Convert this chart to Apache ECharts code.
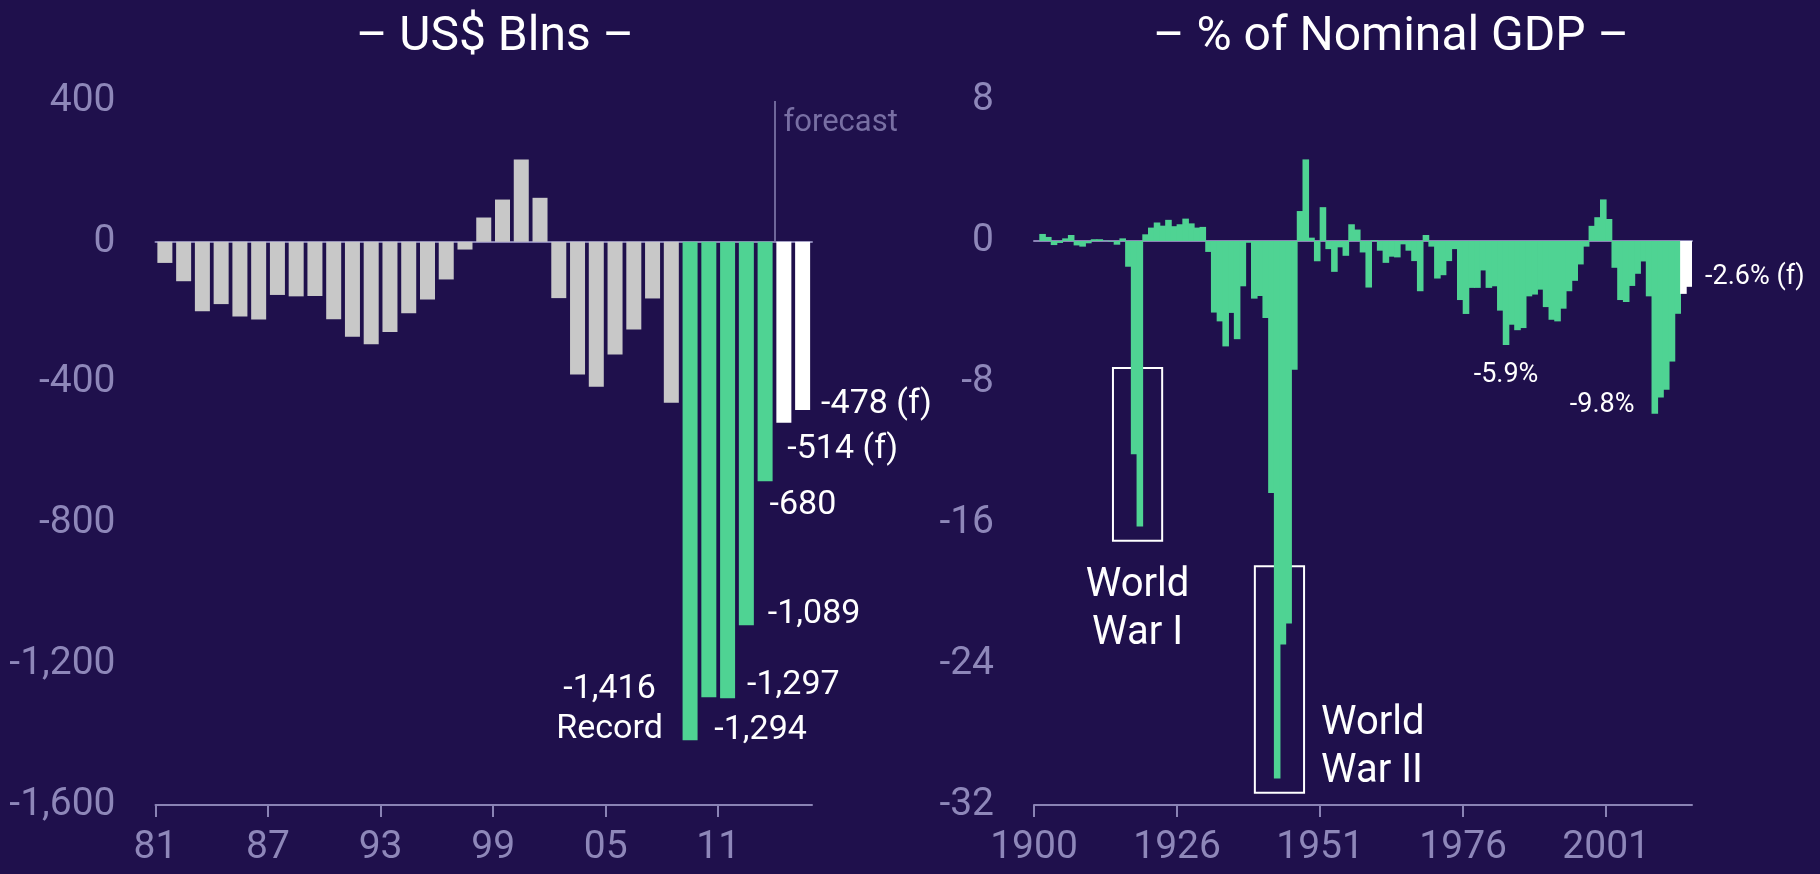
<!DOCTYPE html>
<html>
<head>
<meta charset="utf-8">
<title>US budget balance</title>
<script src="https://cdn.jsdelivr.net/npm/echarts@6/dist/echarts.min.js"></script>
<style>
html, body { margin: 0; padding: 0; background: #1f104c; }
#chartmain { width: 1820px; height: 874px; }
</style>
</head>
<body>
<div id="chartmain"></div>
<script>
// left panel: US$ bn, fiscal years
var usdYears = [1981, 1982, 1983, 1984, 1985, 1986, 1987, 1988, 1989, 1990,
    1991, 1992, 1993, 1994, 1995, 1996, 1997, 1998, 1999, 2000,
    2001, 2002, 2003, 2004, 2005, 2006, 2007, 2008, 2009, 2010,
    2011, 2012, 2013, 2014, 2015];
var usdValues = [-60, -112, -197, -177, -212, -221, -151, -155, -154, -220,
    -270, -291, -256, -203, -164, -107, -22, 69, 120, 234,
    125, -160, -377, -412, -320, -249, -161, -457, -1416, -1294,
    -1297, -1089, -680, -514, -478];
var usdTickYears = [1981, 1987, 1993, 1999, 2005, 2011];
var usdTickLabels = ['81', '87', '93', '99', '05', '11'];

// right panel: % of nominal GDP
var gdpYears = [1901, 1902, 1903, 1904, 1905, 1906, 1907, 1908, 1909, 1910,
    1911, 1912, 1913, 1914, 1915, 1916, 1917, 1918, 1919, 1920,
    1921, 1922, 1923, 1924, 1925, 1926, 1927, 1928, 1929, 1930,
    1931, 1932, 1933, 1934, 1935, 1936, 1937, 1938, 1939, 1940,
    1941, 1942, 1943, 1944, 1945, 1946, 1947, 1948, 1949, 1950,
    1951, 1952, 1953, 1954, 1955, 1956, 1957, 1958, 1959, 1960,
    1961, 1962, 1963, 1964, 1965, 1966, 1967, 1968, 1969, 1970,
    1971, 1972, 1973, 1974, 1975, 1976, 1977, 1978, 1979, 1980,
    1981, 1982, 1983, 1984, 1985, 1986, 1987, 1988, 1989, 1990,
    1991, 1992, 1993, 1994, 1995, 1996, 1997, 1998, 1999, 2000,
    2001, 2002, 2003, 2004, 2005, 2006, 2007, 2008, 2009, 2010,
    2011, 2012, 2013, 2014, 2015];
var gdpValues = [0.0, 0.4, 0.23, -0.23, -0.11, 0.15, 0.34, -0.25, -0.32, -0.13,
    0.1, 0.1, 0.02, -0.03, -0.21, 0.15, -1.46, -12.1, -16.2, 0.38,
    0.76, 1.05, 0.87, 1.2, 0.84, 0.95, 1.27, 1.0, 0.76, 0.8,
    -0.62, -4.06, -4.56, -5.98, -4.08, -5.57, -2.57, -0.1, -3.27, -3.12,
    -4.37, -14.3, -30.5, -22.9, -21.7, -7.3, 1.7, 4.63, 0.19, -1.15,
    1.92, -0.46, -1.75, -0.36, -0.84, 0.95, 0.65, -0.65, -2.64, 0.05,
    -0.55, -1.24, -0.89, -0.93, -0.19, -0.55, -1.14, -2.85, 0.34, -0.32,
    -2.13, -1.94, -1.14, -0.46, -3.35, -4.14, -2.66, -2.66, -1.67, -2.66,
    -2.57, -3.95, -5.9, -4.75, -5.06, -4.94, -3.14, -3.04, -2.76, -3.75,
    -4.47, -4.56, -3.84, -2.85, -2.26, -1.33, -0.32, 0.86, 1.35, 2.36,
    1.25, -1.52, -3.35, -3.46, -2.55, -1.86, -1.16, -3.14, -9.8, -8.88,
    -8.44, -6.84, -4.13, -3.0, -2.6];
var gdpTickYears = [1901, 1926, 1951, 1976, 2001];
var gdpTickLabels = ['1900', '1926', '1951', '1976', '2001'];

var forecastFrom = 2014;
var recordFrom = 2009;

var BG = '#1f104c';
var GREEN = '#4fd393';
var GRAY = '#c8c8c8';
var WHITE = '#ffffff';
var LINE = '#8a83b5';
var AXIS_TEXT = '#8e87b9';
var FONT = 'Roboto';

// where each value label sits (style only, values come from the arrays)
var usdLabelStyle = {
    2009: { pos: ['0%', '100%'], offset: [-73, -31], align: 'center', extra: '\nRecord' },
    2010: { pos: ['100%', '100%'], offset: [-2, 33] },
    2011: { pos: ['100%', '100%'], offset: [12, -13] },
    2012: { pos: ['100%', '100%'], offset: [14, -11] },
    2013: { pos: ['0%', '100%'], offset: [12, 24] },
    2014: { pos: ['0%', '100%'], offset: [11, 27] },
    2015: { pos: ['100%', '100%'], offset: [11, -6] }
};
var gdpLabelStyle = {
    1983: { pos: 'bottom', distance: 14, align: 'center' },
    2009: { pos: ['0%', '100%'], offset: [-17, -8], align: 'right' },
    2015: { pos: ['100%', '100%'], offset: [13, -10] }
};

// annotation boxes, in axis units (years, % of GDP)
var warBoxes = [
    { name: 'World\nWar I', x: [1914.8, 1923.4], y: [-7.2, -17.0], where: 'below' },
    { name: 'World\nWar II', x: [1939.6, 1948.2], y: [-18.45, -31.3], where: 'right' }
];

function fmt(v) {
    return v.toLocaleString('en-US');
}

function makeItems(years, values, color, styles, textOf, fontSize) {
    var out = [];
    for (var i = 0; i < values.length; i++) {
        var year = years[i];
        var c = color(year);
        var item = {
            value: values[i],
            itemStyle: { color: c }
        };
        var s = styles[year];
        if (s) {
            var txt = textOf(values[i], year) + (s.extra || '');
            item.label = {
                show: true,
                position: s.pos,
                distance: s.distance || 0,
                offset: s.offset || [0, 0],
                align: s.align || 'left',
                verticalAlign: s.pos === 'bottom' ? 'top' : 'middle',
                color: WHITE,
                fontSize: fontSize,
                fontFamily: FONT,
                lineHeight: fontSize + 6,
                formatter: (function(t) { return function() { return t; }; })(txt)
            };
        }
        out.push(item);
    }
    return out;
}

function usdColor(year) {
    if (year >= forecastFrom) return WHITE;
    if (year >= recordFrom) return GREEN;
    return GRAY;
}
function gdpColor(year) {
    return year >= forecastFrom ? WHITE : GREEN;
}
function suffix(year) {
    return year >= forecastFrom ? ' (f)' : '';
}

var usdData = makeItems(usdYears, usdValues, usdColor, usdLabelStyle, function(v, y) {
    return fmt(v) + suffix(y);
}, 34);
var gdpData = makeItems(gdpYears, gdpValues, gdpColor, gdpLabelStyle, function(v, y) {
    return v.toFixed(1) + '%' + suffix(y);
}, 27);

function tickAxis(grid, ticks, labels, minV, maxV) {
    return {
        gridIndex: grid,
        type: 'value',
        min: minV,
        max: maxV,
        position: 'bottom',
        splitLine: { show: false },
        axisLine: { show: true, onZero: false, lineStyle: { color: LINE, width: 2 } },
        axisTick: { show: true, customValues: ticks, length: 12, lineStyle: { color: LINE, width: 2 } },
        axisLabel: {
            customValues: ticks,
            color: AXIS_TEXT,
            fontSize: 39,
            fontFamily: FONT,
            margin: 24,
            formatter: function(v) {
                var k = ticks.indexOf(v);
                return k >= 0 ? labels[k] : '';
            }
        }
    };
}

function bandAxis(grid, cats) {
    return {
        gridIndex: grid,
        type: 'category',
        data: cats,
        axisLine: { show: true, onZero: true, lineStyle: { color: LINE, width: 2 } },
        axisTick: { show: false },
        axisLabel: { show: false },
        splitLine: { show: false }
    };
}

function valueAxis(grid, minV, maxV, step) {
    return {
        gridIndex: grid,
        type: 'value',
        min: minV,
        max: maxV,
        interval: step,
        axisLine: { show: false },
        axisTick: { show: false },
        splitLine: { show: false },
        axisLabel: { color: AXIS_TEXT, fontSize: 39, fontFamily: FONT, margin: 40, formatter: fmt }
    };
}

var usdMax = 400;
var option = {
    backgroundColor: BG,
    animation: false,
    textStyle: { fontFamily: FONT },
    title: [
        { text: '– US$ Blns –', left: 490, top: 9, textAlign: 'center',
          textStyle: { color: WHITE, fontSize: 48, fontWeight: 'normal', fontFamily: FONT } },
        { text: '– % of Nominal GDP –', left: 1386, top: 9, textAlign: 'center',
          textStyle: { color: WHITE, fontSize: 48, fontWeight: 'normal', fontFamily: FONT } }
    ],
    grid: [
        { left: 155.5, top: 101, width: 656.5, height: 704 },
        { left: 1034, top: 100, width: 658, height: 705 }
    ],
    xAxis: [
        bandAxis(0, usdYears),
        tickAxis(0, usdTickYears, usdTickLabels, usdYears[0], usdYears[usdYears.length - 1] + 1),
        bandAxis(1, gdpYears),
        tickAxis(1, gdpTickYears, gdpTickLabels, gdpYears[0], gdpYears[gdpYears.length - 1] + 1)
    ],
    yAxis: [
        valueAxis(0, -1600, usdMax, 400),
        valueAxis(1, -32, 8, 8)
    ],
    series: [
        {
            type: 'bar',
            xAxisIndex: 0,
            yAxisIndex: 0,
            barCategoryGap: '20%',
            data: usdData
        },
        {
            // forecast marker
            type: 'scatter',
            xAxisIndex: 1,
            yAxisIndex: 0,
            symbolSize: 0,
            silent: true,
            data: [[forecastFrom, usdMax]],
            label: {
                show: true,
                position: 'right',
                distance: 0,
                offset: [9, 22],
                color: AXIS_TEXT,
                fontSize: 31,
                fontFamily: FONT,
                formatter: 'forecast'
            },
            markLine: {
                silent: true,
                symbol: ['none', 'none'],
                label: { show: false },
                lineStyle: { color: LINE, width: 1.5, type: 'solid' },
                data: [[{ coord: [forecastFrom, usdMax] }, { coord: [forecastFrom, 0] }]]
            }
        },
        {
            type: 'bar',
            xAxisIndex: 2,
            yAxisIndex: 1,
            // slightly wider than the band so neighbouring years join without seams
            barWidth: '115%',
            barGap: '-100%',
            data: gdpData
        },
        {
            type: 'scatter',
            xAxisIndex: 3,
            yAxisIndex: 1,
            symbolSize: 0,
            silent: true,
            data: [],
            markArea: {
                silent: true,
                itemStyle: { color: 'rgba(0,0,0,0)', borderColor: WHITE, borderWidth: 2 },
                data: warBoxes.map(function(b) {
                    var lab = b.where === 'below'
                        ? { position: 'bottom', distance: 20, align: 'center', verticalAlign: 'top' }
                        : { position: ['100%', '100%'], offset: [16, -46], align: 'left', verticalAlign: 'middle' };
                    lab.show = true;
                    lab.color = WHITE;
                    lab.fontSize = 40;
                    lab.lineHeight = 48;
                    lab.fontFamily = FONT;
                    return [
                        { name: b.name, coord: [b.x[0], b.y[0]], label: lab },
                        { coord: [b.x[1], b.y[1]] }
                    ];
                })
            }
        }
    ]
};

var myChart = echarts.init(document.getElementById('chartmain'));
myChart.setOption(option);
</script>
</body>
</html>
